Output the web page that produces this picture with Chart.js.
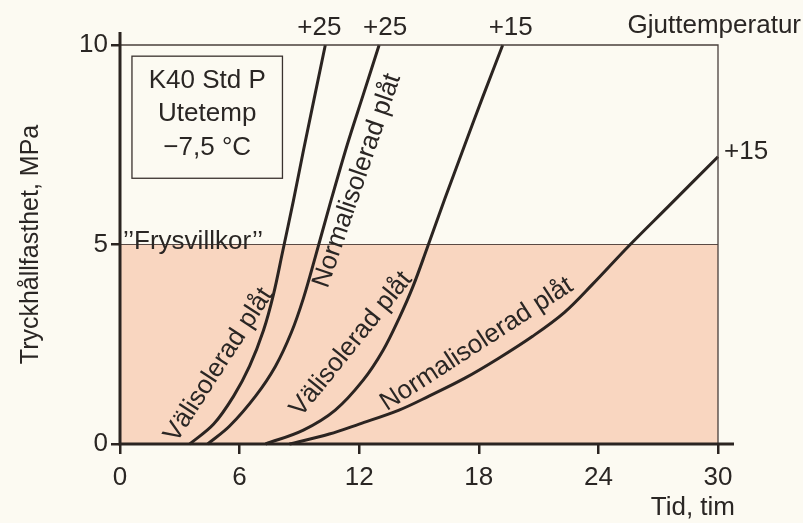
<!DOCTYPE html>
<html>
<head>
<meta charset="utf-8">
<script src="https://cdn.jsdelivr.net/npm/chart.js@4.4.1/dist/chart.umd.min.js"></script>
<style>
  html, body { margin: 0; padding: 0; background: #fcfaf2; }
  #wrap { width: 803px; height: 523px; }
</style>
</head>
<body>
<div id="wrap"><canvas id="chart"></canvas></div>
<script>
// tid (timmar) och tryckhållfasthet (MPa)
const valis25Tid = [3.5, 4.7, 5.7, 6.5, 7.2, 7.7, 8.15, 8.7, 9.2, 10.3];
const valis25Mpa = [0, 0.5, 1.2, 1.95, 2.85, 3.75, 4.8, 6.1, 7.35, 10];
const normal25Tid = [4.4, 5.5, 6.8, 7.8, 8.6, 9.2, 9.75, 10.5, 11.4, 12.2, 13.0];
const normal25Mpa = [0, 0.45, 1.2, 1.95, 2.8, 3.65, 4.6, 5.95, 7.5, 8.75, 10];
const valis15Tid = [7.3, 9.2, 10.8, 12.2, 13.2, 14, 14.7, 15.4, 16.3, 17.3, 18.2, 19.2];
const valis15Mpa = [0, 0.35, 0.85, 1.6, 2.35, 3.15, 3.95, 4.9, 6.15, 7.5, 8.7, 10];
const normal15Tid = [8.5, 10.5, 12, 14, 15.5, 17.3, 19, 20.7, 22.3, 23.7, 25.5, 27.5, 30];
const normal15Mpa = [0, 0.25, 0.5, 0.85, 1.2, 1.65, 2.15, 2.7, 3.3, 4.0, 4.95, 5.95, 7.2];

const frysGrans = 5;
const xTicks = [0, 6, 12, 18, 24, 30];
const yTicks = [0, 5, 10];
const gjutTemp = ['+25', '+25', '+15', '+15'];

const ink = '#2b2421';
const textCol = '#2a2624';
const fontFam = '"Liberation Sans", Arial, sans-serif';

function pts(t, v) {
  return t.map((x, i) => ({ x: x, y: v[i] }));
}

function curve(t, v) {
  return {
    data: pts(t, v),
    borderColor: ink,
    borderWidth: 3,
    pointRadius: 0,
    tension: 0.35,
    fill: false,
    clip: 4
  };
}

// etiketter längs kurvorna: [text, tid, MPa, vinkel]
const curveLabels = [
  ['Välisolerad plåt', 4.95, 1.98, -57],
  ['Normalisolerad plåt', 11.9, 6.6, -71],
  ['Välisolerad plåt', 11.6, 2.5, -51],
  ['Normalisolerad plåt', 17.9, 2.5, -33]
];

const overlay = {
  id: 'overlay',
  beforeDraw(chart) {
    const ctx = chart.ctx;
    ctx.save();
    ctx.fillStyle = '#fcfaf2';
    ctx.fillRect(0, 0, chart.width, chart.height);
    ctx.restore();
  },
  afterDatasetsDraw(chart) {
    const { ctx, scales: { x, y } } = chart;
    const x0 = x.getPixelForValue(0), x30 = x.getPixelForValue(30);
    const y0 = y.getPixelForValue(0), y10 = y.getPixelForValue(10);
    const y5 = y.getPixelForValue(frysGrans);
    ctx.save();

    // tunn ram uppe och till höger
    ctx.strokeStyle = '#4a403c';
    ctx.lineWidth = 1.3;
    ctx.beginPath();
    ctx.moveTo(x0, y10);
    ctx.lineTo(x30, y10);
    ctx.lineTo(x30, y0);
    ctx.stroke();

    // kraftiga axlar
    ctx.strokeStyle = ink;
    ctx.lineWidth = 3;
    ctx.beginPath();
    ctx.moveTo(x0, y0 + 1.5);
    ctx.lineTo(x0, y10 - 13);
    ctx.moveTo(x0 - 1.5, y0);
    ctx.lineTo(x30 + 16, y0);
    ctx.stroke();

    ctx.fillStyle = textCol;
    ctx.font = '26px ' + fontFam;

    // Frysvillkor
    ctx.textAlign = 'left';
    ctx.textBaseline = 'alphabetic';
    ctx.fillStyle = '#fcfaf2';
    ctx.fillRect(x0 + 2, y5 - 22, 158, 21);
    ctx.fillStyle = textCol;
    ctx.fillText('\u2019\u2019Frysvillkor\u2019\u2019', x0 + 3, y5 + 4);

    // ruta med förutsättningar
    const bx = x.getPixelForValue(0.6), by = y.getPixelForValue(9.72);
    const bw = x.getPixelForValue(8.15) - bx, bh = y.getPixelForValue(6.66) - by;
    ctx.strokeStyle = '#3a322f';
    ctx.lineWidth = 1.3;
    ctx.strokeRect(bx, by, bw, bh);
    ctx.textAlign = 'center';
    ctx.textBaseline = 'middle';
    const cx = bx + bw / 2;
    ctx.fillText('K40 Std P', cx, by + 25);
    ctx.fillText('Utetemp', cx, by + 58);
    ctx.fillText('\u22127,5 °C', cx, by + 92);

    // gjuttemperaturer ovanför
    const topY = y10 - 17;
    ctx.fillText(gjutTemp[0], x.getPixelForValue(valis25Tid[valis25Tid.length - 1]) - 6, topY);
    ctx.fillText(gjutTemp[1], x.getPixelForValue(normal25Tid[normal25Tid.length - 1]) + 6, topY);
    ctx.fillText(gjutTemp[2], x.getPixelForValue(valis15Tid[valis15Tid.length - 1]) + 8, topY);
    ctx.textAlign = 'right';
    ctx.fillText('Gjuttemperatur', x30 + 83, topY - 2);
    ctx.textAlign = 'left';
    ctx.fillText(gjutTemp[3], x30 + 6, y.getPixelForValue(normal15Mpa[normal15Mpa.length - 1]) - 5);

    // x-axelns titel
    ctx.textAlign = 'right';
    ctx.fillText('Tid, tim', x30 + 17, y0 + 64);

    // kurvetiketter
    ctx.textAlign = 'center';
    curveLabels.forEach(l => {
      ctx.save();
      ctx.translate(x.getPixelForValue(l[1]), y.getPixelForValue(l[2]));
      ctx.rotate(l[3] * Math.PI / 180);
      ctx.fillText(l[0], 0, 0);
      ctx.restore();
    });
    ctx.restore();
  }
};

new Chart(document.getElementById('chart'), {
  type: 'line',
  data: {
    datasets: [
      curve(valis25Tid, valis25Mpa),
      curve(normal25Tid, normal25Mpa),
      curve(valis15Tid, valis15Mpa),
      curve(normal15Tid, normal15Mpa),
      {
        data: pts([0, 30], [frysGrans, frysGrans]),
        borderColor: '#5a4a44',
        borderWidth: 1.2,
        backgroundColor: '#f9d6c0',
        fill: 'origin',
        pointRadius: 0,
        tension: 0
      }
    ]
  },
  options: {
    responsive: true,
    maintainAspectRatio: false,
    animation: false,
    layout: { padding: { left: 0, top: 45, right: 85, bottom: 0 } },
    plugins: { legend: { display: false }, tooltip: { enabled: false } },
    scales: {
      x: {
        type: 'linear',
        min: 0,
        max: 30,
        afterFit: s => { s.height = 79; },
        afterBuildTicks: s => { s.ticks = xTicks.map(v => ({ value: v })); },
        grid: { drawOnChartArea: false, drawTicks: true, tickLength: 10, color: ink, lineWidth: 2.5 },
        border: { display: false },
        ticks: { color: textCol, font: { family: fontFam, size: 26 }, padding: 8, maxRotation: 0 }
      },
      y: {
        type: 'linear',
        min: 0,
        max: 10,
        afterFit: s => { s.width = 120; },
        afterBuildTicks: s => { s.ticks = yTicks.map(v => ({ value: v })); },
        grid: { drawOnChartArea: false, drawTicks: true, tickLength: 9, color: ink, lineWidth: 2.5 },
        border: { display: false },
        ticks: { color: textCol, font: { family: fontFam, size: 26 }, padding: 3 },
        title: {
          display: true,
          text: 'Tryckhållfasthet, MPa',
          color: textCol,
          font: { family: fontFam, size: 25 },
          padding: { top: 16, bottom: 0 }
        }
      }
    }
  },
  plugins: [overlay]
});
</script>
</body>
</html>
